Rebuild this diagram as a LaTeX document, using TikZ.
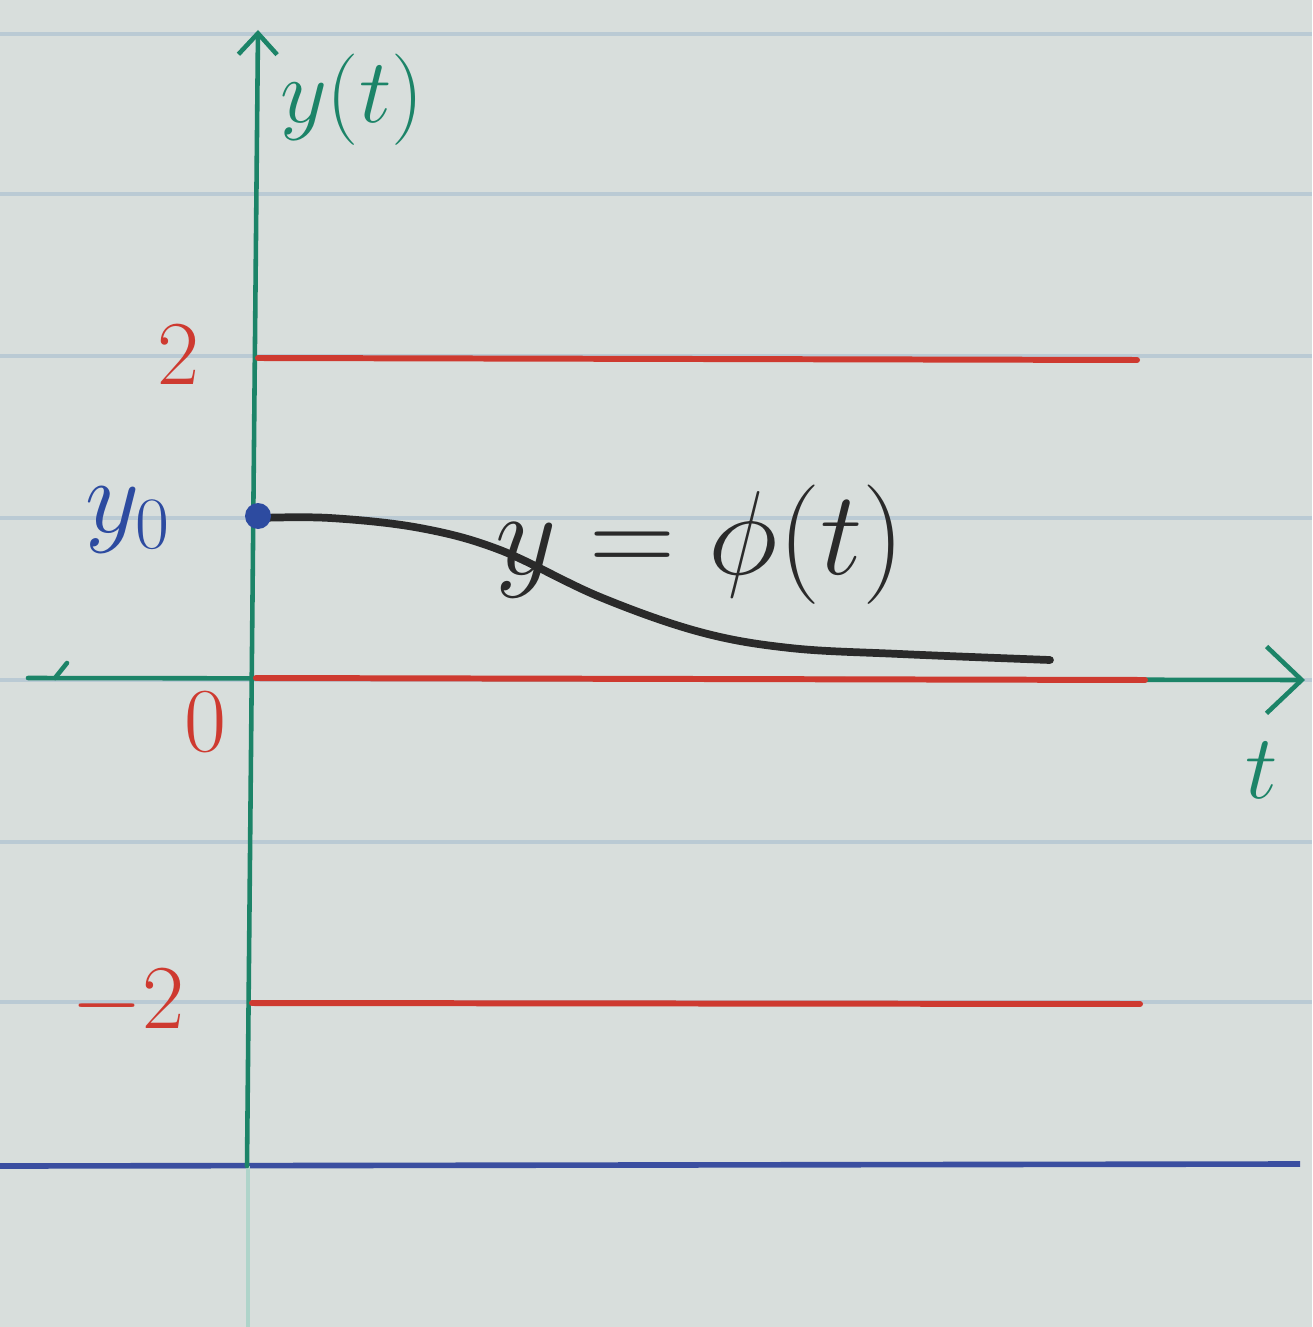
\RequirePackage{fix-cm}
\documentclass[tikz,border=0pt]{standalone}
\usepackage{amsmath}
\usepackage{xcolor}
\usepackage{tikz}
\usetikzlibrary{arrows.meta}
\definecolor{paper}{RGB}{216,222,220}
\definecolor{ruleline}{RGB}{186,202,212}
\definecolor{marginblue}{RGB}{58,78,160}
\definecolor{axisgreen}{RGB}{28,132,104}
\definecolor{levelred}{RGB}{206,58,48}
\definecolor{inkblack}{RGB}{42,42,42}
\definecolor{dotblue}{RGB}{45,75,160}
\tikzset{
  paperrule/.style={ruleline, line width=1.2pt},
  axis/.style={axisgreen, line width=1.3pt, line cap=round},
  level/.style={levelred, line width=1.7pt, line cap=round},
  solution/.style={inkblack, line width=2.2pt, line cap=round},
  redlabel/.style={text=levelred, font=\fontsize{26}{30}\selectfont},
  greenlabel/.style={text=axisgreen, font=\fontsize{26}{30}\selectfont},
  bluelabel/.style={text=dotblue, font=\fontsize{30}{34}\selectfont}
}
\begin{document}
\begin{tikzpicture}[x=0.1mm, y=-0.1mm]
  \useasboundingbox (0,0) rectangle (1312,1327);
  \fill[paper] (0,0) rectangle (1312,1327);

  % ruled paper
  \foreach \ry in {34,194,356,518,680,842,1002}
    \draw[paperrule] (0,\ry) -- (1312,\ry);
  \draw[marginblue, line width=1.6pt] (0,1166) -- (1300,1164);
  \draw[axisgreen!35, line width=1pt] (248,1166) -- (248,1327);

  % axes
  \draw[axis, -{Straight Barb[length=6pt, width=11pt]}] (247,1166) -- (258,30);
  \draw[axis, -{Straight Barb[length=10pt, width=19pt]}] (28,678) -- (1305,680);
  \draw[axis] (55,678) -- (67,663);

  % levels y = 2, 0, -2
  \draw[level] (258,358) -- (1137,360);
  \draw[level] (256,678) -- (1145,680);
  \draw[level] (252,1003) -- (1140,1004);

  % solution curve
  \draw[solution] plot[smooth, tension=0.6] coordinates
    {(258,518) (330,518) (420,528) (500,550) (600,597) (700,632)
     (790,648) (900,654) (1050,660)};
  \fill[dotblue] (258,516) circle (13);

  % labels
  \node[greenlabel] (ylab) at (352,100) {$y(t)$};
  \node[greenlabel] (tlab) at (1262,770) {$t$};
  \node[redlabel] (two) at (178,355) {$2$};
  \node[redlabel] (zero) at (205,722) {$0$};
  \node[redlabel] (mtwo) at (128,1003) {$-2$};
  \node[bluelabel] (yzero) at (128,520) {$y_0$};
  \node[text=inkblack, font=\fontsize{34}{38}\selectfont] (phi) at (700,545)
    {$y=\phi(t)$};
\end{tikzpicture}
\end{document}
